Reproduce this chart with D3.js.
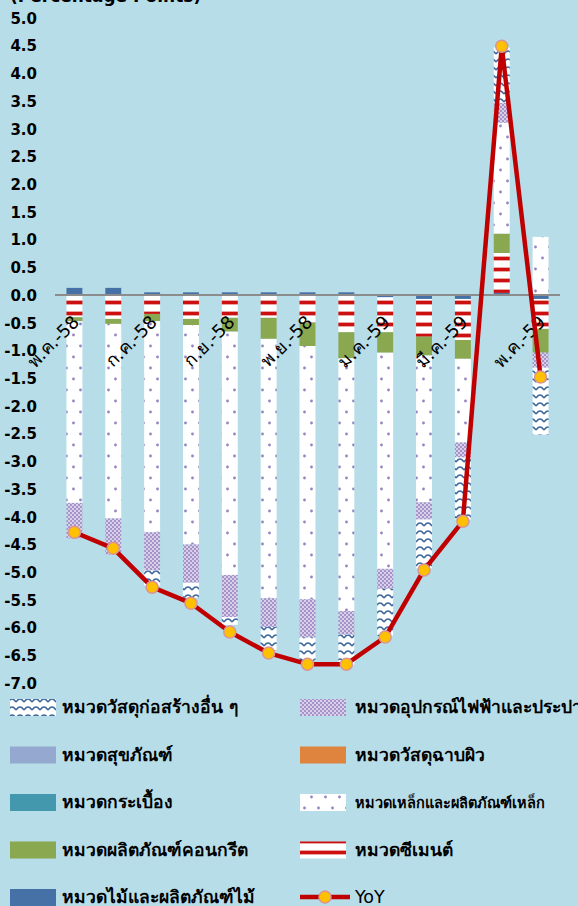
<!DOCTYPE html>
<html>
<head>
<meta charset="utf-8">
<script src="https://cdn.jsdelivr.net/npm/d3@7"></script>
<style>
  html, body { margin: 0; padding: 0; background: #b7dde8; }
  svg { display: block; }
  .tick-y { font-family: "DejaVu Sans", sans-serif; font-weight: bold; font-size: 15px; fill: #000; }
  .tick-x { font-family: "DejaVu Sans", sans-serif; font-size: 18px; fill: #000; }
  .legend { font-family: "DejaVu Sans", sans-serif; font-weight: bold; font-size: 17.5px; fill: #000; }
</style>
</head>
<body>
<svg id="chart" width="578" height="906"></svg>
<script>
// months, May 2558 .. May 2559
const months = ['พ.ค.-58', 'มิ.ย.-58', 'ก.ค.-58', 'ส.ค.-58', 'ก.ย.-58', 'ต.ค.-58', 'พ.ย.-58',
                'ธ.ค.-58', 'ม.ค.-59', 'ก.พ.-59', 'มี.ค.-59', 'เม.ย.-59', 'พ.ค.-59'];

// contribution of each group (percentage points)
const wood     = [0.13, 0.13, 0.05, 0.05, 0.05, 0.05, 0.05, 0.05, -0.04, -0.07, -0.07, 0.04, -0.07];
const cement   = [-0.40, -0.43, -0.34, -0.43, -0.41, -0.41, -0.50, -0.67, -0.63, -0.68, -0.74, 0.72, -0.54];
const concrete = [-0.07, -0.09, -0.13, -0.11, -0.25, -0.38, -0.42, -0.47, -0.37, -0.34, -0.34, 0.35, -0.43];
const steel    = [-3.28, -3.51, -3.81, -3.96, -4.39, -4.68, -4.57, -4.56, -3.90, -2.65, -1.51, 2.00, 1.05];
const tile     = [0, 0, 0, 0, 0, 0, 0, 0, 0, 0, 0, 0, 0];
const plaster  = [0, 0, 0, 0, 0, 0, 0, 0, 0, 0, 0, 0, 0];
const sanitary = [0, 0, 0, 0, 0, 0, 0, 0, 0, 0, 0, 0, 0];
const electric = [-0.64, -0.65, -0.69, -0.69, -0.76, -0.52, -0.69, -0.43, -0.36, -0.31, -0.27, 0.36, -0.27];
const other    = [0, 0, -0.27, -0.27, -0.14, -0.42, -0.42, -0.54, -0.85, -0.88, -1.12, 1.00, -1.21];
const yoy      = [-4.28, -4.57, -5.27, -5.56, -6.08, -6.46, -6.66, -6.66, -6.17, -4.96, -4.08, 4.49, -1.48];

const yTicks = [5.0, 4.5, 4.0, 3.5, 3.0, 2.5, 2.0, 1.5, 1.0, 0.5, 0.0, -0.5, -1.0, -1.5, -2.0,
                -2.5, -3.0, -3.5, -4.0, -4.5, -5.0, -5.5, -6.0, -6.5, -7.0];

// stacking order (first sits next to zero)
const series = [
    {key: 'wood',     label: 'หมวดไม้และผลิตภัณฑ์ไม้',        values: wood,     fill: '#4671a6'},
    {key: 'cement',   label: 'หมวดซีเมนต์',                 values: cement,   fill: 'url(#p-cement)'},
    {key: 'concrete', label: 'หมวดผลิตภัณฑ์คอนกรีต',          values: concrete, fill: '#8aa84f'},
    {key: 'steel',    label: 'หมวดเหล็กและผลิตภัณฑ์เหล็ก',     values: steel,    fill: 'url(#p-steel)'},
    {key: 'tile',     label: 'หมวดกระเบื้อง',                values: tile,     fill: '#4498ae'},
    {key: 'plaster',  label: 'หมวดวัสดุฉาบผิว',              values: plaster,  fill: '#de843f'},
    {key: 'sanitary', label: 'หมวดสุขภัณฑ์',                 values: sanitary, fill: '#95a9d0'},
    {key: 'electric', label: 'หมวดอุปกรณ์ไฟฟ้าและประปา',     values: electric, fill: 'url(#p-electric)'},
    {key: 'other',    label: 'หมวดวัสดุก่อสร้างอื่น ๆ',         values: other,    fill: 'url(#p-other)'}
];

const legendLeft = ['other', 'sanitary', 'tile', 'concrete', 'wood'];
const legendRight = ['electric', 'plaster', 'steel', 'cement', 'yoy'];

const svg = d3.select('#chart');
const byKey = {};
series.forEach(s => { byKey[s.key] = s; });

// patterns
const defs = svg.append('defs');

const pc = defs.append('pattern').attr('id', 'p-cement')
    .attr('patternUnits', 'userSpaceOnUse').attr('width', 8).attr('height', 11);
pc.append('rect').attr('width', 8).attr('height', 11).attr('fill', '#fff');
pc.append('rect').attr('y', 3).attr('width', 8).attr('height', 5).attr('fill', '#eba5a5');
pc.append('rect').attr('y', 4).attr('width', 8).attr('height', 3).attr('fill', '#cc1010');

const ps = defs.append('pattern').attr('id', 'p-steel')
    .attr('patternUnits', 'userSpaceOnUse').attr('width', 14).attr('height', 22);
ps.append('rect').attr('width', 14).attr('height', 22).attr('fill', '#fff');
ps.append('circle').attr('cx', 3.5).attr('cy', 5).attr('r', 1.4).attr('fill', '#9484c0');
ps.append('circle').attr('cx', 10.5).attr('cy', 16).attr('r', 1.4).attr('fill', '#9484c0');

const pe = defs.append('pattern').attr('id', 'p-electric')
    .attr('patternUnits', 'userSpaceOnUse').attr('width', 4).attr('height', 4);
pe.append('rect').attr('width', 4).attr('height', 4).attr('fill', '#a593c9');
pe.append('rect').attr('width', 2).attr('height', 2).attr('fill', '#d8cfe8');
pe.append('rect').attr('x', 2).attr('y', 2).attr('width', 2).attr('height', 2).attr('fill', '#d8cfe8');

const po = defs.append('pattern').attr('id', 'p-other')
    .attr('patternUnits', 'userSpaceOnUse').attr('width', 8).attr('height', 8);
po.append('rect').attr('width', 8).attr('height', 8).attr('fill', '#fff');
po.append('path').attr('d', 'M0,6 Q4,0 8,6').attr('fill', 'none')
    .attr('stroke', '#3d679b').attr('stroke-width', 1.5);

// scales
const x = d3.scaleBand().domain(months).range([55, 560]).paddingInner(0.59).paddingOuter(0.295);
const y = d3.scaleLinear().domain([-7, 5]).range([683, 18]);

// title, clipped at the top of the picture
svg.append('text')
    .attr('x', 10).attr('y', 2)
    .style('font-family', '"DejaVu Sans", sans-serif')
    .style('font-weight', 'bold').style('font-size', '17px')
    .text('(Percentage Points)');

// y axis labels
const yAxis = svg.append('g')
    .attr('transform', 'translate(40,0)')
    .call(d3.axisLeft(y).tickValues(yTicks).tickSize(0).tickPadding(3).tickFormat(d => d.toFixed(1)));
yAxis.select('.domain').remove();
yAxis.selectAll('text').attr('class', 'tick-y').attr('dy', '0.35em');

// stacked bars
const table = months.map((m, i) => {
    const row = {month: m};
    series.forEach(s => { row[s.key] = s.values[i]; });
    return row;
});
const stacked = d3.stack().keys(series.map(s => s.key)).offset(d3.stackOffsetDiverging)(table);

svg.append('g').selectAll('g')
    .data(stacked)
    .join('g')
    .attr('fill', d => byKey[d.key].fill)
    .selectAll('rect')
    .data(d => d)
    .join('rect')
    .attr('x', d => x(d.data.month))
    .attr('width', x.bandwidth())
    .attr('y', d => y(Math.max(d[0], d[1])))
    .attr('height', d => Math.abs(y(d[0]) - y(d[1])));

// zero line
svg.append('line')
    .attr('x1', 55).attr('x2', 560)
    .attr('y1', y(0)).attr('y2', y(0))
    .attr('stroke', '#8c8c8c').attr('stroke-width', 2);

// month labels, every other month
svg.append('g').selectAll('text')
    .data(months.filter((m, i) => i % 2 === 0))
    .join('text')
    .attr('class', 'tick-x')
    .attr('text-anchor', 'end')
    .attr('transform', d => `translate(${x(d) + x.bandwidth() / 2 + 6},${y(0) + 28}) rotate(-45)`)
    .text(d => d);

// YoY line
const line = d3.line()
    .x((d, i) => x(months[i]) + x.bandwidth() / 2)
    .y(d => y(d));

svg.append('path')
    .datum(yoy)
    .attr('d', line)
    .attr('fill', 'none')
    .attr('stroke', '#c00000')
    .attr('stroke-width', 4.5)
    .attr('stroke-linejoin', 'round');

svg.append('g').selectAll('circle')
    .data(yoy)
    .join('circle')
    .attr('cx', (d, i) => x(months[i]) + x.bandwidth() / 2)
    .attr('cy', d => y(d))
    .attr('r', 6)
    .attr('fill', '#ffc000')
    .attr('stroke', '#d99594')
    .attr('stroke-width', 1.5);

// legend
function drawLegend(keys, sx, tx) {
    keys.forEach((k, i) => {
        const cy = 707 + i * 47.5;
        if (k === 'yoy') {
            svg.append('line').attr('x1', sx).attr('x2', sx + 50).attr('y1', cy).attr('y2', cy)
                .attr('stroke', '#c00000').attr('stroke-width', 4.5);
            svg.append('circle').attr('cx', sx + 25).attr('cy', cy).attr('r', 6)
                .attr('fill', '#ffc000').attr('stroke', '#d99594').attr('stroke-width', 1.5);
            svg.append('text').attr('class', 'legend').attr('x', tx).attr('y', cy + 6)
                .style('font-weight', 'normal').text('YoY');
            return;
        }
        const s = byKey[k];
        svg.append('rect').attr('x', sx).attr('y', cy - 8).attr('width', 46).attr('height', 17)
            .attr('fill', s.fill);
        svg.append('text').attr('class', 'legend')
            .attr('x', tx).attr('y', cy + 6)
            .style('font-size', k === 'steel' ? '14.5px' : null)
            .text(s.label);
    });
}
drawLegend(legendLeft, 10, 62);
drawLegend(legendRight, 300, 355);
</script>
</body>
</html>
